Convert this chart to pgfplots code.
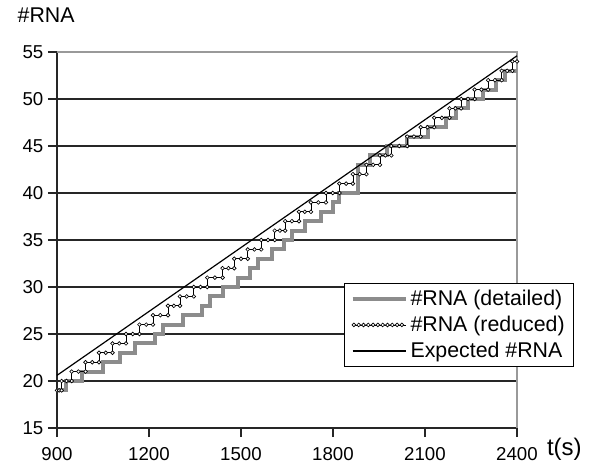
\documentclass[border=0pt]{standalone}
\usepackage{fontspec}
\setmainfont{Liberation Sans}
\usepackage{pgfplots}
\pgfplotsset{compat=1.18}
\usetikzlibrary{decorations.markings}

\begin{document}
\begin{tikzpicture}
% page box = 592x469 px at 0.75pt per px, axis corner at px (57,428)
\useasboundingbox (-42.75pt,-30.75pt) rectangle (401.25pt,321pt);
\begin{axis}[
  at={(0pt,0pt)}, anchor=south west,
  scale only axis, width=345pt, height=282pt,
  xmin=900, xmax=2400, ymin=15, ymax=55,
  xtick={900,1200,...,2400}, ytick={15,20,...,55},
  axis x line*=bottom, axis y line*=left,
  axis line style={black!85, line width=1pt},
  tick style={black!85, line width=1pt},
  tick align=outside, major tick length=6.75pt,
  ymajorgrids, grid style={black!85, line width=1pt},
  tick label style={font=\fontsize{14}{16}\selectfont},
  x tick label style={yshift=-4pt},
  /pgf/number format/assume math mode=true,
  /pgf/number format/1000 sep={},
  clip=false,
  legend cell align=left,
  legend style={at={(0.624,0.386)}, anchor=north west, draw=black, line width=0.8pt,
    fill=white, font=\fontsize{16}{18}\selectfont, inner xsep=4.5pt, inner ysep=3pt,
    row sep=2.5pt, /tikz/every even column/.append style={column sep=4pt}},
  legend image code/.code={\draw[#1] (0pt,0pt) -- (40pt,0pt);},
]
\draw[black!40, line width=1pt] (rel axis cs:0,1) -- (rel axis cs:1,1) -- (rel axis cs:1,0);

% detailed model
\addplot[const plot, black!45, line width=3pt] coordinates {
(900,19) (930,20) (981,21) (1050,22) (1105,23) (1154,24) (1220,25) (1245,26)
(1311,27) (1373,28) (1400,29) (1440,30) (1490,31) (1530,32) (1555,33) (1600,34)
(1640,35) (1665,36) (1710,37) (1760,38) (1800,39) (1820,40) (1882,43) (1920,44)
(1975,45) (2040,46) (2110,47) (2170,48) (2200,49) (2240,50) (2290,51) (2330,52)
(2360,53) (2400,53)};
\addlegendentry{\#RNA (detailed)}

% reduced model, sampled points
\addplot[const plot, black, line width=0.5pt, mark=*, mark size=1.4pt,
  mark options={fill=white, draw=black, line width=0.5pt},
  legend image code/.code={
    \draw[black, line width=0.5pt] (0pt,0pt) -- (40pt,0pt);
    \path[decorate, decoration={markings, mark=between positions 0 and 1 step 3.6pt with
      {\draw[black, line width=0.5pt, fill=white] (0,0) circle (1.4pt);}}] (1pt,0pt) -- (40pt,0pt);}
  ] coordinates {
(900,19) (907,19) (915,19) (915,20) (931,20) (948,20) (948,21) (970,21) (993,21)
(993,22) (1015,22) (1037,22) (1037,23) (1059,23) (1081,23) (1081,24) (1103,24) (1125,24)
(1125,25) (1147,25) (1169,25) (1169,26) (1191,26) (1213,26) (1213,27) (1237,27) (1262,27)
(1262,28) (1281,28) (1301,28) (1301,29) (1323,29) (1346,29) (1346,30) (1368,30) (1390,30)
(1390,31) (1415,31) (1440,31) (1440,32) (1459,32) (1478,32) (1478,33) (1500,33) (1522,33)
(1522,34) (1544,34) (1566,34) (1566,35) (1588,35) (1610,35) (1610,36) (1627,36) (1644,36)
(1644,37) (1666,37) (1689,37) (1689,38) (1708,38) (1728,38) (1728,39) (1752,39) (1777,39)
(1777,40) (1799,40) (1821,40) (1821,41) (1843,41) (1865,41) (1865,42) (1887,42) (1909,42)
(1909,43) (1931,43) (1953,43) (1953,44) (1971,44) (1990,44) (1990,45) (2016,45) (2042,45)
(2042,46) (2064,46) (2086,46) (2086,47) (2108,47) (2130,47) (2130,48) (2155,48) (2180,48)
(2180,49) (2199,49) (2218,49) (2218,50) (2240,50) (2262,50) (2262,51) (2284,51) (2306,51)
(2306,52) (2328,52) (2350,52) (2350,53) (2368,53) (2385,53) (2385,54) (2400,54)};
\addlegendentry{\#RNA (reduced)}

% expected
\addplot[black, line width=0.9pt] coordinates {(900,20.6) (2400,54.6)};
\addlegendentry{Expected \#RNA}
\end{axis}
\node[anchor=west, font=\fontsize{16}{18}\selectfont] at (-33pt,309.75pt) {\#RNA};
\node[anchor=west, font=\fontsize{18}{20}\selectfont] at (364pt,-16pt) {t(s)};
\end{tikzpicture}
\end{document}
